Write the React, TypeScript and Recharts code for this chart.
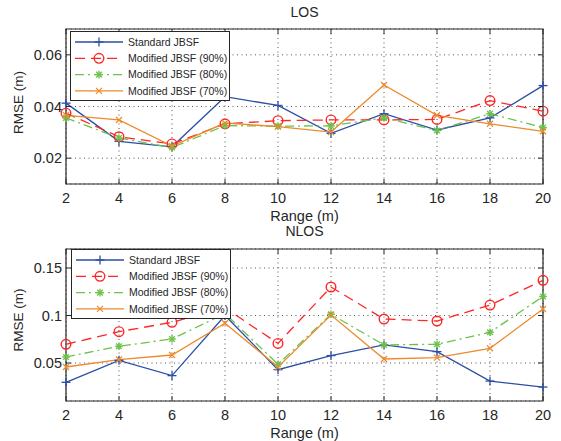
import { LineChart, Line, XAxis, YAxis, CartesianGrid, ReferenceArea, Legend } from 'recharts'

// range (m) on x axis
const range = [2, 4, 6, 8, 10, 12, 14, 16, 18, 20]

// LOS panel
const losStandard = [0.0413, 0.0265, 0.0244, 0.0438, 0.0404, 0.0296, 0.0372, 0.0309, 0.0356, 0.0481]
const los90 = [0.0374, 0.0283, 0.0255, 0.0333, 0.0345, 0.0348, 0.0348, 0.035, 0.0423, 0.0382]
const los80 = [0.0356, 0.0278, 0.0241, 0.0326, 0.0324, 0.0325, 0.0356, 0.0307, 0.0372, 0.0319]
const los70 = [0.0366, 0.0348, 0.0247, 0.0336, 0.0322, 0.0301, 0.0483, 0.0366, 0.0333, 0.0304]

// NLOS panel
const nlosStandard = [0.0297, 0.0528, 0.0367, 0.1, 0.043, 0.0578, 0.069, 0.062, 0.031, 0.0247]
const nlos90 = [0.0697, 0.083, 0.0928, 0.108, 0.0706, 0.13, 0.0963, 0.0942, 0.111, 0.137]
const nlos80 = [0.0563, 0.0676, 0.0753, 0.102, 0.0486, 0.1013, 0.069, 0.0697, 0.0823, 0.12]
const nlos70 = [0.0458, 0.0536, 0.0584, 0.0918, 0.0458, 0.1005, 0.0542, 0.0557, 0.0655, 0.1068]

const losTicks = [0.02, 0.04, 0.06]
const nlosTicks = [0.05, 0.1, 0.15]
const seriesNames = ['Standard JBSF', 'Modified JBSF (90%)', 'Modified JBSF (80%)', 'Modified JBSF (70%)']

const FONT = '"Liberation Sans", Arial, Helvetica, sans-serif'
const INK = '#262626'
const COLORS = ['#2b4ea6', '#ff2626', '#6cc24a', '#ec8a2c']
const DASHES = [undefined, '10 6', '9 4 2 4', undefined]
const W = 561
const PLOT_RIGHT = 543

function Marker({ kind, cx, cy }: { kind: number; cx: number; cy: number }) {
  const c = COLORS[kind]
  if (kind === 0) {
    return (
      <g stroke={c} strokeWidth={1.3}>
        <line x1={cx - 4.5} y1={cy} x2={cx + 4.5} y2={cy} />
        <line x1={cx} y1={cy - 4.5} x2={cx} y2={cy + 4.5} />
      </g>
    )
  }
  if (kind === 1) return <circle cx={cx} cy={cy} r={4.8} fill="none" stroke={c} strokeWidth={1.4} />
  if (kind === 2) {
    return (
      <g stroke={c} strokeWidth={1.4}>
        <line x1={cx - 3.8} y1={cy} x2={cx + 3.8} y2={cy} />
        <line x1={cx} y1={cy - 3.8} x2={cx} y2={cy + 3.8} />
        <line x1={cx - 2.8} y1={cy - 2.8} x2={cx + 2.8} y2={cy + 2.8} />
        <line x1={cx - 2.8} y1={cy + 2.8} x2={cx + 2.8} y2={cy - 2.8} />
      </g>
    )
  }
  return (
    <g stroke={c} strokeWidth={1.3}>
      <line x1={cx - 3} y1={cy - 3} x2={cx + 3} y2={cy + 3} />
      <line x1={cx - 3} y1={cy + 3} x2={cx + 3} y2={cy - 3} />
    </g>
  )
}

function LegendBox() {
  return (
    <div style={{ width: 160, height: 70, boxSizing: 'border-box', border: `1px solid ${INK}`, background: '#fff' }}>
      <svg width={158} height={68} style={{ display: 'block' }}>
        {seriesNames.map((name, i) => {
          const y = 10 + i * 16.3
          return (
            <g key={name}>
              <line x1={4} y1={y} x2={52} y2={y} stroke={COLORS[i]} strokeWidth={1.3} strokeDasharray={DASHES[i]} />
              <Marker kind={i} cx={28} cy={y} />
              <text x={57} y={y} dy="0.35em" fontSize={10.5} fontFamily={FONT} fill={INK}>
                {name}
              </text>
            </g>
          )
        })}
      </svg>
    </div>
  )
}

type PanelProps = {
  title: string
  titleY: number
  top: number
  height: number
  plotTop: number
  xAxisHeight: number
  legendTop: number
  legendLeft: number
  domain: [number, number]
  ticks: number[]
  series: number[][]
  labelShift: number
}

function Panel(p: PanelProps) {
  const rows = range.map((r, i) => ({ range: r, s0: p.series[0][i], s1: p.series[1][i], s2: p.series[2][i], s3: p.series[3][i] }))
  const plotTop = p.plotTop

  const xTick = (t: any) => (
    <g>
      <line x1={t.x} y1={t.y} x2={t.x} y2={t.y - 5} stroke={INK} />
      <line x1={t.x} y1={plotTop} x2={t.x} y2={plotTop + 5} stroke={INK} />
      <text x={t.x} y={t.y + 19} textAnchor="middle" fontSize={14.5} fontFamily={FONT} fill={INK}>
        {t.payload.value}
      </text>
    </g>
  )
  const yTick = (t: any) => (
    <g>
      <line x1={t.x} y1={t.y} x2={t.x + 5} y2={t.y} stroke={INK} />
      <line x1={PLOT_RIGHT} y1={t.y} x2={PLOT_RIGHT - 5} y2={t.y} stroke={INK} />
      <text x={t.x - 4} y={t.y} dy="0.36em" textAnchor="end" fontSize={14.5} fontFamily={FONT} fill={INK}>
        {String(Number(t.payload.value.toFixed(3)))}
      </text>
    </g>
  )

  return (
    <div style={{ position: 'absolute', left: 0, top: p.top, width: W, height: p.height }}>
      <div
        style={{ position: 'absolute', left: 0, width: W, top: p.titleY - 9, textAlign: 'center', paddingLeft: 48, boxSizing: 'border-box', fontFamily: FONT, fontSize: 14, color: INK, lineHeight: '18px' }}
      >
        {p.title}
      </div>
      <LineChart width={W} height={p.height} data={rows} margin={{ top: plotTop, right: W - PLOT_RIGHT, bottom: 0, left: 0 }}>
        <CartesianGrid stroke="#555" strokeDasharray="1 3.5" />
        <XAxis
          dataKey="range"
          type="number"
          domain={[2, 20]}
          ticks={range}
          interval={0}
          height={p.xAxisHeight}
          tickSize={0}
          tickMargin={0}
          axisLine={false}
          tick={xTick}
          label={{
            content: (l: any) => (
              <text x={l.viewBox.x + l.viewBox.width / 2} y={l.viewBox.y + 37} textAnchor="middle" fontSize={14.5} fontFamily={FONT} fill={INK}>
                Range (m)
              </text>
            ),
          }}
        />
        <YAxis
          type="number"
          domain={p.domain}
          ticks={p.ticks}
          interval={0}
          width={66}
          tickSize={0}
          tickMargin={0}
          axisLine={false}
          tick={yTick}
          label={{
            content: (l: any) => {
              const cy = l.viewBox.y + l.viewBox.height / 2 + p.labelShift
              return (
                <text x={18} y={cy} transform={`rotate(-90 18 ${cy})`} dy="0.35em" textAnchor="middle" fontSize={13.5} fontFamily={FONT} fill={INK}>
                  RMSE (m)
                </text>
              )
            },
          }}
        />
        <ReferenceArea x1={2} x2={20} y1={p.domain[0]} y2={p.domain[1]} fill="none" stroke={INK} strokeWidth={1.2} ifOverflow="visible" />
        {[0, 1, 2, 3].map((k) => (
          <Line
            key={k}
            dataKey={`s${k}`}
            type="linear"
            stroke={COLORS[k]}
            strokeWidth={1.3}
            strokeDasharray={DASHES[k]}
            dot={(d: any) => <Marker key={`d${k}-${d.index}`} kind={k} cx={d.cx} cy={d.cy} />}
            activeDot={false}
            isAnimationActive={false}
          />
        ))}
        <Legend
          layout="vertical"
          align="center"
          verticalAlign="middle"
          content={() => <LegendBox />}
          wrapperStyle={{ left: p.legendLeft, top: p.legendTop, width: 160, height: 70 }}
        />
      </LineChart>
    </div>
  )
}

export default function App() {
  return (
    <div style={{ position: 'absolute', left: 0, top: 0, width: W, height: 441, background: '#fff' }}>
      <Panel
        title="LOS"
        titleY={12}
        top={0}
        height={226}
        plotTop={29}
        xAxisHeight={42}
        legendTop={31}
        legendLeft={70}
        domain={[0.01, 0.07]}
        ticks={losTicks}
        series={[losStandard, los90, los80, los70]}
        labelShift={-4}
      />
      <Panel
        title="NLOS"
        titleY={9}
        top={222}
        height={219}
        plotTop={27}
        xAxisHeight={40}
        legendTop={27}
        legendLeft={71}
        domain={[0.01, 0.17]}
        ticks={nlosTicks}
        series={[nlosStandard, nlos90, nlos80, nlos70]}
        labelShift={-5}
      />
    </div>
  )
}
